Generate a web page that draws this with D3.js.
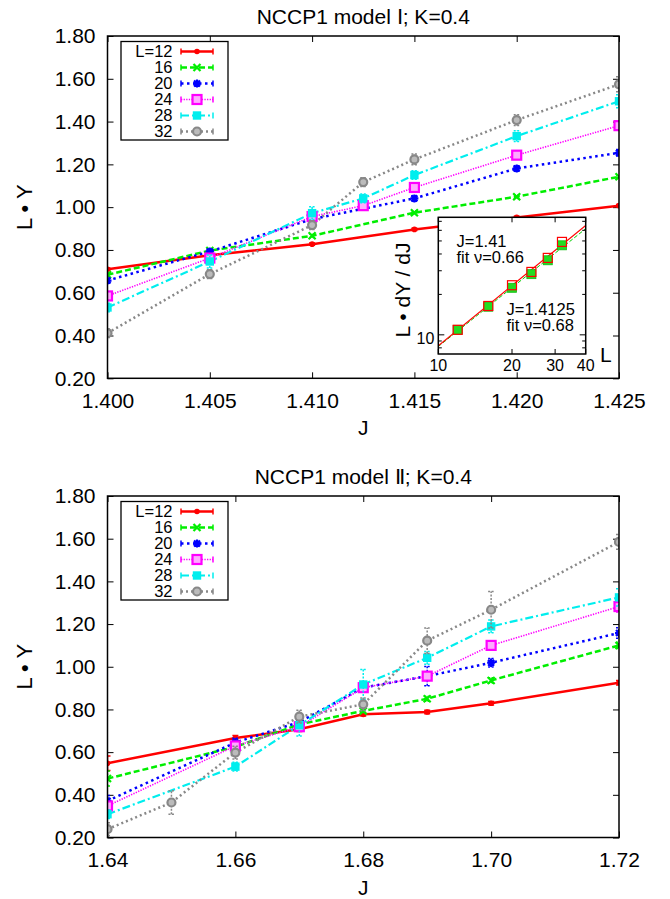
<!DOCTYPE html>
<html><head><meta charset="utf-8">
<script src="https://cdn.jsdelivr.net/npm/d3@7"></script>
<style>
body{margin:0;background:#fff}
svg{display:block}
text{font-family:"Liberation Sans",Arial,Helvetica,sans-serif;fill:#000}
</style>
</head><body>
<svg id="c" width="670" height="899"></svg>
<script>
// ---------- data ----------
const seriesLabels = ["L=12","16","20","24","28","32"];
const seriesColors = ["#ff0000","#00ee00","#0000ff","#ff00ff","#00eeee","#888888"];

// top panel: NCCP1 model I
const topTitle = "NCCP1 model \u2160; K=0.4";
const topJ6 = [1.400,1.405,1.410,1.415,1.420,1.425];
const topJ7 = [1.400,1.405,1.410,1.4125,1.415,1.420,1.425];
const topY12 = [0.710,0.775,0.827,0.896,0.952,1.007];
const topY16 = [0.684,0.797,0.866,0.974,1.049,1.142];
const topY20 = [0.657,0.793,0.944,1.041,1.181,1.254];
const topY24 = [0.585,0.762,0.956,1.007,1.092,1.243,1.381];
const topY28 = [0.531,0.746,0.972,1.041,1.150,1.332,1.495];
const topY32 = [0.411,0.687,0.916,1.117,1.223,1.407,1.574];
const topE12 = [0.006,0.005,0.005,0.005,0.005,0.005];
const topE16 = [0.008,0.008,0.008,0.008,0.008,0.008];
const topE20 = [0.010,0.010,0.012,0.012,0.012,0.015];
const topE24 = [0.012,0.012,0.015,0.012,0.015,0.015,0.018];
const topE28 = [0.020,0.030,0.030,0.020,0.020,0.025,0.030];
const topE32 = [0.020,0.020,0.020,0.020,0.025,0.025,0.035];
const topXTicks = [1.400,1.405,1.410,1.415,1.420,1.425];

// bottom panel: NCCP1 model II
const botTitle = "NCCP1 model \u2161; K=0.4";
const botJ7 = [1.64,1.66,1.67,1.68,1.69,1.70,1.72];
const botJ8 = [1.64,1.65,1.66,1.67,1.68,1.69,1.70,1.72];
const botY12 = [0.548,0.666,0.707,0.777,0.788,0.829,0.925];
const botY16 = [0.476,0.625,0.730,0.793,0.850,0.936,1.100];
const botY20 = [0.372,0.645,0.741,0.902,0.956,1.019,1.158];
const botY24 = [0.348,0.629,0.719,0.902,0.956,1.100,1.282];
const botY28 = [0.309,0.532,0.726,0.917,1.042,1.189,1.325];
const botY32 = [0.239,0.364,0.598,0.766,0.824,1.122,1.267,1.585];
const botE12 = [0.034,0.012,0.010,0.008,0.008,0.008,0.010];
const botE16 = [0.035,0.015,0.012,0.010,0.012,0.012,0.015];
const botE20 = [0.025,0.020,0.020,0.020,0.045,0.020,0.025];
const botE24 = [0.020,0.020,0.020,0.020,0.020,0.020,0.025];
const botE28 = [0.020,0.020,0.050,0.070,0.030,0.030,0.040];
const botE32 = [0.030,0.055,0.030,0.030,0.030,0.060,0.085,0.035];
const botXTicks = [1.64,1.66,1.68,1.70,1.72];

const yTicks = [0.20,0.40,0.60,0.80,1.00,1.20,1.40,1.60,1.80];

// inset: L * dY/dJ versus L (log-log)
const insetL = [12,16,20,24,28,32];
const insetA = [10.9,16.4,23.4,29.4,37.4,49.2];   // J=1.41
const insetB = [10.9,16.2,22.4,28.3,35.9,46.4];   // J=1.4125
const fitL = [10,40];
const fitA = [8.29,65.3];
const fitB = [8.19,61.7];
const insetXTicks = [10,20,30,40];
const insetYMajor = [10];
const insetYMinor = [8,9,20,30,40,50,60,70];

// ---------- drawing ----------
const svg = d3.select("#c");
const FONT = 21;

const dashes = [null,"6,3","2.5,3.5","1.3,1.3","8,3,2,3","2,3"];
const widths = [2.5,2.5,2.5,1.6,2.2,2.5];

function marker(g, i, cx, cy) {
  const c = seriesColors[i];
  if (i === 0) {
    g.append("circle").attr("cx",cx).attr("cy",cy).attr("r",2.8).attr("fill",c);
  } else if (i === 1) {
    g.append("path").attr("d",`M${cx-3.5},${cy-3.5}L${cx+3.5},${cy+3.5}M${cx-3.5},${cy+3.5}L${cx+3.5},${cy-3.5}`)
      .attr("stroke",c).attr("stroke-width",2.2).attr("fill","none");
  } else if (i === 2) {
    g.append("path").attr("d",`M${cx-4},${cy}L${cx+4},${cy}M${cx},${cy-4}L${cx},${cy+4}M${cx-3},${cy-3}L${cx+3},${cy+3}M${cx-3},${cy+3}L${cx+3},${cy-3}`)
      .attr("stroke",c).attr("stroke-width",2.2).attr("fill","none");
  } else if (i === 3) {
    g.append("rect").attr("x",cx-4.5).attr("y",cy-4.5).attr("width",9).attr("height",9)
      .attr("fill","#ffaaff").attr("stroke",c).attr("stroke-width",2.2);
  } else if (i === 4) {
    g.append("rect").attr("x",cx-4.2).attr("y",cy-4.2).attr("width",8.4).attr("height",8.4).attr("fill",c);
  } else {
    g.append("circle").attr("cx",cx).attr("cy",cy).attr("r",4).attr("fill","#bbbbbb")
      .attr("stroke",c).attr("stroke-width",2.2);
  }
}

function panel(opt) {
  const {top, bottom, xDomain, xTicks, xFmt, title, series} = opt;
  const left = 107.5, right = 619;
  const x = d3.scaleLinear().domain(xDomain).range([left,right]);
  const y = d3.scaleLinear().domain([0.2,1.8]).range([bottom,top]);
  const g = svg.append("g");

  g.append("text").attr("x",(left+right)/2).attr("y",top-12).attr("text-anchor","middle")
    .style("font-size",FONT+"px").text(title);

  const ax = (axis, tx, ty) => {
    const a = g.append("g").attr("transform",`translate(${tx},${ty})`).call(axis);
    a.select(".domain").remove();
    a.selectAll("line").attr("stroke","#000").attr("stroke-width",1);
    a.selectAll("text").style("font-size",FONT+"px").attr("fill","#000");
    return a;
  };
  ax(d3.axisBottom(x).tickValues(xTicks).tickFormat(d3.format(xFmt)).tickSize(-6).tickSizeOuter(0).tickPadding(15), 0, bottom);
  ax(d3.axisTop(x).tickValues(xTicks).tickFormat("").tickSize(-6).tickSizeOuter(0), 0, top);
  ax(d3.axisLeft(y).tickValues(yTicks).tickFormat(d3.format(".2f")).tickSize(-6).tickSizeOuter(0).tickPadding(12), left, 0);
  ax(d3.axisRight(y).tickValues(yTicks).tickFormat("").tickSize(-6).tickSizeOuter(0), right, 0);

  g.append("text").attr("transform",`translate(32,${(top+bottom)/2}) rotate(-90)`).attr("text-anchor","middle")
    .style("font-size","22px").text("L \u2022 Y");
  g.append("text").attr("x",(left+right)/2).attr("y",bottom+57).attr("text-anchor","middle")
    .style("font-size",FONT+"px").text("J");

  const cid = "clip"+Math.round(top);
  svg.append("clipPath").attr("id",cid).append("rect").attr("x",left).attr("y",top).attr("width",right-left).attr("height",bottom-top);
  const plot = g.append("g").attr("clip-path",`url(#${cid})`);

  const line = d3.line().x(d=>x(d[0])).y(d=>y(d[1]));
  series.forEach((s,i) => {
    const pts = s.J.map((j,k)=>[j,s.Y[k],s.E[k]]);
    plot.append("path").datum(pts).attr("d",line).attr("fill","none")
      .attr("stroke",seriesColors[i]).attr("stroke-width",widths[i])
      .attr("stroke-dasharray",dashes[i]);
  });
  series.forEach((s,i) => {
    const pts = s.J.map((j,k)=>[j,s.Y[k],s.E[k]]);
    pts.forEach(p => {
      const cx = x(p[0]), y0 = y(p[1]-p[2]), y1 = y(p[1]+p[2]);
      plot.append("path").attr("d",`M${cx},${y0}L${cx},${y1}M${cx-3},${y0}L${cx+3},${y0}M${cx-3},${y1}L${cx+3},${y1}`)
        .attr("stroke",seriesColors[i]).attr("stroke-width",1.5).attr("fill","none")
        .attr("stroke-dasharray",i===0?null:"2,1.5");
      marker(plot, i, cx, y(p[1]));
    });
  });

  g.append("rect").attr("x",left).attr("y",top).attr("width",right-left).attr("height",bottom-top)
    .attr("fill","none").attr("stroke","#000").attr("stroke-width",1.5);

  // legend
  const lg = g.append("g");
  const lx = 121, ly = top+5.5;
  lg.append("rect").attr("x",lx).attr("y",ly).attr("width",107).attr("height",98.5)
    .attr("fill","#fff").attr("stroke","#000").attr("stroke-width",1.3);
  seriesLabels.forEach((lab,i) => {
    const cy = ly + 10 + 16*i;
    lg.append("text").attr("x",172.5).attr("y",cy).attr("dy","0.36em").attr("text-anchor","end")
      .style("font-size","16.5px").text(lab);
    lg.append("line").attr("x1",181).attr("x2",213).attr("y1",cy).attr("y2",cy)
      .attr("stroke",seriesColors[i]).attr("stroke-width",widths[i]).attr("stroke-dasharray",dashes[i]);
    lg.append("path").attr("d",`M181,${cy-3}L181,${cy+3}M213,${cy-3}L213,${cy+3}`)
      .attr("stroke",seriesColors[i]).attr("stroke-width",1.5);
    marker(lg, i, 197, cy);
  });
  return g;
}

panel({top:36, bottom:378.3, xDomain:[1.400,1.425], xTicks:topXTicks, xFmt:".3f", title:topTitle,
  series:[
    {J:topJ6,Y:topY12,E:topE12},{J:topJ6,Y:topY16,E:topE16},{J:topJ6,Y:topY20,E:topE20},
    {J:topJ7,Y:topY24,E:topE24},{J:topJ7,Y:topY28,E:topE28},{J:topJ7,Y:topY32,E:topE32}]});

panel({top:496, bottom:837.5, xDomain:[1.64,1.72], xTicks:botXTicks, xFmt:".2f", title:botTitle,
  series:[
    {J:botJ7,Y:botY12,E:botE12},{J:botJ7,Y:botY16,E:botE16},{J:botJ7,Y:botY20,E:botE20},
    {J:botJ7,Y:botY24,E:botE24},{J:botJ7,Y:botY28,E:botE28},{J:botJ8,Y:botY32,E:botE32}]});

// ---------- inset ----------
(function(){
  const L0 = 438.3, R0 = 585.7, T0 = 217.3, B0 = 354;
  const x = d3.scaleLog().domain([10,40]).range([L0,R0]);
  const y = d3.scaleLog().domain([7.2,75]).range([B0,T0]);
  const g = svg.append("g");
  g.append("rect").attr("x",L0).attr("y",T0).attr("width",R0-L0).attr("height",B0-T0).attr("fill","#fff");
  svg.append("clipPath").attr("id","clipIn").append("rect").attr("x",L0).attr("y",T0).attr("width",R0-L0).attr("height",B0-T0);
  const p = g.append("g").attr("clip-path","url(#clipIn)");

  insetXTicks.forEach(t => {
    g.append("line").attr("x1",x(t)).attr("x2",x(t)).attr("y1",B0).attr("y2",B0-5).attr("stroke","#000");
    g.append("line").attr("x1",x(t)).attr("x2",x(t)).attr("y1",T0).attr("y2",T0+5).attr("stroke","#000");
    g.append("text").attr("x",x(t)).attr("y",B0+17).attr("text-anchor","middle").style("font-size","16px").text(t);
  });
  insetYMajor.forEach(t => {
    g.append("line").attr("x1",L0).attr("x2",L0+6).attr("y1",y(t)).attr("y2",y(t)).attr("stroke","#000");
    g.append("line").attr("x1",R0).attr("x2",R0-6).attr("y1",y(t)).attr("y2",y(t)).attr("stroke","#000");
    g.append("text").attr("x",L0-4).attr("y",y(t)+3).attr("dy","0.36em").attr("text-anchor","end").style("font-size","16px").text(t);
  });
  insetYMinor.forEach(t => {
    g.append("line").attr("x1",L0).attr("x2",L0+3.5).attr("y1",y(t)).attr("y2",y(t)).attr("stroke","#000");
    g.append("line").attr("x1",R0).attr("x2",R0-3.5).attr("y1",y(t)).attr("y2",y(t)).attr("stroke","#000");
  });

  const ln = d3.line().x(d=>x(d[0])).y(d=>y(d[1]));
  p.append("path").datum(fitL.map((l,k)=>[l,fitB[k]])).attr("d",ln).attr("fill","none")
    .attr("stroke","#00cc00").attr("stroke-width",1).attr("stroke-dasharray","4,2");
  p.append("path").datum(fitL.map((l,k)=>[l,fitA[k]])).attr("d",ln).attr("fill","none")
    .attr("stroke","#ff0000").attr("stroke-width",1.2);

  insetL.forEach((l,k) => {
    p.append("rect").attr("x",x(l)-4.5).attr("y",y(insetB[k])-4.5).attr("width",9).attr("height",9)
      .attr("fill","#22dd22").attr("stroke","#11bb11").attr("stroke-width",0.8);
    p.append("rect").attr("x",x(l)-4.5).attr("y",y(insetA[k])-4.5).attr("width",9).attr("height",9)
      .attr("fill","none").attr("stroke","#ff0000").attr("stroke-width",1.2);
  });

  g.append("rect").attr("x",L0).attr("y",T0).attr("width",R0-L0).attr("height",B0-T0)
    .attr("fill","none").attr("stroke","#000").attr("stroke-width",1.5);

  const txt = (s,tx,ty,fs) => g.append("text").attr("x",tx).attr("y",ty).style("font-size",fs+"px").text(s);
  txt("J=1.41",456.5,246.5,16.5);
  txt("fit \u03bd=0.66",456.5,263,16.5);
  txt("J=1.4125",506.5,315,16.5);
  txt("fit \u03bd=0.68",506.5,330.5,16.5);
  txt("L",600,362,21);
  g.append("text").attr("transform",`translate(410,290) rotate(-90)`).attr("text-anchor","middle")
    .style("font-size","21px").text("L \u2022 dY / dJ");
})();
</script>
</body></html>
